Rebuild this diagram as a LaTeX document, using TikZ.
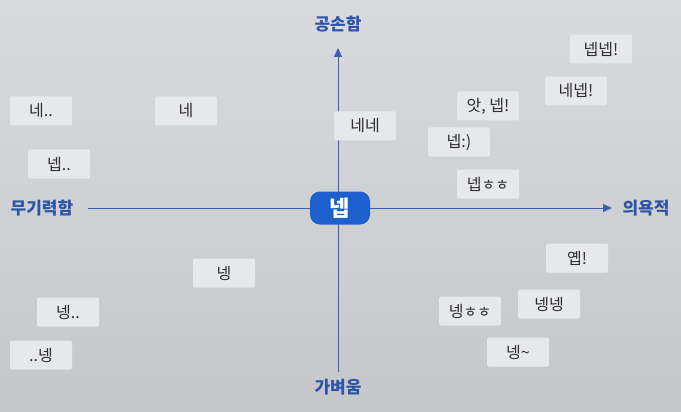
\documentclass[tikz,border=0pt]{standalone}
\usepackage{fontspec}
\setmainfont{Noto Sans CJK KR}
\usetikzlibrary{arrows.meta}
\definecolor{bgtop}{RGB}{216,218,222}
\definecolor{bgbot}{RGB}{198,199,203}
\definecolor{boxfill}{RGB}{231,232,234}
\definecolor{txt}{RGB}{45,45,50}
\definecolor{axisblue}{RGB}{60,95,175}
\definecolor{lblblue}{RGB}{45,85,165}
\definecolor{centerblue}{RGB}{28,96,205}
\tikzset{
  x=1pt,y=-1pt,
  bubble/.style={fill=boxfill, rounded corners=1.5pt, minimum width=62pt, minimum height=29pt, inner sep=0pt, text=txt, font=\fontsize{16}{16}\selectfont},
  axislbl/.style={text=lblblue, font=\fontsize{17}{17}\selectfont\bfseries, inner sep=2pt},
  axisline/.style={draw=axisblue, line width=0.9pt},
  tip/.style={-{Triangle[width=8pt,length=9pt]}},
}
\newcommand{\hh}{{\fontsize{15}{15}\selectfont ㅎㅎ}}
\begin{document}
\begin{tikzpicture}
\useasboundingbox (0,0) rectangle (681,412);
\shade[top color=bgtop, bottom color=bgbot] (0,0) rectangle (681,412);
% axis labels
\node[axislbl] (top) at (338,24) {공손함};
\node[axislbl] (bottom) at (338,387) {가벼움};
\node[axislbl] (left) at (42,208) {무기력함};
\node[axislbl] (right) at (646,208) {의욕적};
% axes
\coordinate (ltip) at (88,208);
\coordinate (rtip) at (612,208);
\coordinate (ttip) at (338,48);
\coordinate (btip) at (338,372);
\draw[axisline,tip] (ltip) -- (rtip);
\draw[axisline,tip] (btip) -- (ttip);
% center
\node[fill=centerblue, rounded corners=10pt, minimum width=60pt, minimum height=33pt, text=white, font=\fontsize{22}{22}\selectfont\bfseries] (c) at (340,208) {넵};
% bubbles
\node[bubble] (b1) at (41,111) {네..};
\node[bubble] (b2) at (186,111) {네};
\node[bubble] (b3) at (59,164) {넵..};
\node[bubble] (b4) at (365,126) {네네};
\node[bubble] (b5) at (601,49) {넵넵!};
\node[bubble] (b6) at (576,91) {네넵!};
\node[bubble] (b7) at (488,106) {앗, 넵!};
\node[bubble] (b8) at (459,142) {넵:)};
\node[bubble] (b9) at (488,184) {넵\hh};
\node[bubble] (b10) at (577,258) {옙!};
\node[bubble] (b11) at (549,304) {넹넹};
\node[bubble] (b12) at (470,311) {넹\hh};
\node[bubble] (b13) at (518,352) {넹\textasciitilde};
\node[bubble] (b14) at (224,273) {넹};
\node[bubble] (b15) at (68,312) {넹..};
\node[bubble] (b16) at (41,355) {..넹};
\end{tikzpicture}
\end{document}
